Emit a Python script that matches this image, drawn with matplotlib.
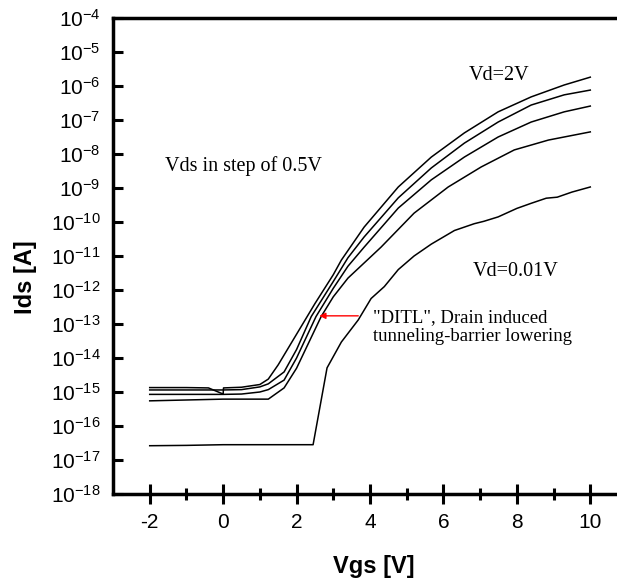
import matplotlib
matplotlib.use("Agg")
import matplotlib.pyplot as plt
import numpy as np

plt.rcParams['font.family'] = ['Liberation Sans', 'DejaVu Sans']
plt.rcParams['mathtext.fontset'] = 'custom'
plt.rcParams['mathtext.rm'] = 'Liberation Sans'
plt.rcParams['mathtext.it'] = 'Liberation Sans'
plt.rcParams['axes.unicode_minus'] = False

# Vgs [V] and log10(Ids [A]), Vd = 2V down to 0.01V
vgs_1 = [-2, -1, -0.4, 0, 0.01, 0.5, 1.0, 1.23, 1.5, 2.0, 2.5, 3.0, 3.22, 3.84, 4.77, 5.67, 6.57, 7.49, 8.39, 9.29, 10]
log_1 = [-14.87, -14.87, -14.88, -15.06, -14.88, -14.86, -14.78, -14.62, -14.2, -13.3, -12.4, -11.55, -11.12,
         -10.15, -8.97, -8.09, -7.38, -6.76, -6.32, -5.97, -5.74]

vgs_2 = [-2, 0, 0.5, 1.0, 1.23, 1.66, 2.0, 2.4, 3.0, 3.4, 3.84, 4.77, 5.67, 6.57, 7.49, 8.39, 9.29, 10]
log_2 = [-14.94, -14.94, -14.93, -14.85, -14.76, -14.41, -13.75, -12.78, -11.75, -11.05, -10.44,
         -9.29, -8.41, -7.68, -7.06, -6.56, -6.26, -6.12]

vgs_3 = [-2, 0, 0.5, 1.0, 1.23, 1.66, 2.0, 2.53, 3.0, 3.4, 3.84, 4.77, 5.67, 6.57, 7.49, 8.39, 9.29, 10]
log_3 = [-15.07, -15.07, -15.06, -15.0, -14.93, -14.65, -14.0, -12.78, -11.95, -11.3, -10.74,
         -9.59, -8.76, -8.09, -7.5, -7.06, -6.76, -6.59]

vgs_4 = [-2, 0, 1.0, 1.23, 1.66, 2.0, 2.67, 3.0, 3.4, 4.3, 5.2, 6.13, 7.03, 7.93, 8.86, 10]
log_4 = [-15.26, -15.21, -15.21, -15.21, -14.88, -14.3, -12.78, -12.2, -11.65, -10.74, -9.74,
         -8.97, -8.38, -7.88, -7.59, -7.35]

vgs_5 = [-2, -1, 0, 1, 2, 2.45, 2.83, 3.22, 3.68, 4.03, 4.39, 4.77, 5.2, 5.67, 6.3, 6.84, 7.1,
         7.49, 8.0, 8.39, 8.8, 9.1, 9.5, 10]
log_5 = [-16.58, -16.57, -16.55, -16.55, -16.55, -16.55, -14.29, -13.53, -12.88, -12.25, -11.9,
         -11.4, -11.0, -10.65, -10.25, -10.05, -9.98, -9.85, -9.6, -9.45, -9.3, -9.27, -9.12, -8.97]

curves = [(vgs_1, log_1), (vgs_2, log_2), (vgs_3, log_3), (vgs_4, log_4), (vgs_5, log_5)]

y_exps = list(range(-18, -3))
x_major = [-2, 0, 2, 4, 6, 8, 10]
x_minor = [-1, 1, 3, 5, 7, 9]

W, H = 617, 586
fig = plt.figure(figsize=(W / 100, H / 100), dpi=100)
ax = fig.add_axes([113 / W, 1 - 494 / H, 514 / W, 476 / H])

for v, lg in curves:
    ax.semilogy(v, 10.0 ** np.array(lg), color='black', lw=1.1)

ax.set_xlim(-3, 11)
ax.set_ylim(1e-18, 1e-4)

ax.set_yticks([10.0 ** e for e in y_exps])
ax.set_yticklabels([r'$\mathregular{10^{%d}}$' % e for e in y_exps])
ax.yaxis.set_minor_locator(matplotlib.ticker.NullLocator())
ax.set_xticks(x_major)
ax.set_xticks(x_minor, minor=True)

for s in ['left', 'bottom', 'top']:
    ax.spines[s].set_linewidth(2.5)
ax.spines['right'].set_visible(False)

ax.tick_params(axis='y', which='major', direction='in', length=7.5, width=2.2, labelsize=15, pad=9)
ax.tick_params(axis='x', which='major', direction='inout', length=15, width=2.2, labelsize=15, pad=6)
ax.tick_params(axis='x', which='minor', direction='inout', length=8.5, width=2.2)

ax.set_xlabel('Vgs [V]', fontsize=17, fontweight='bold')
ax.set_ylabel('Ids [A]', fontsize=17, fontweight='bold')
ax.xaxis.set_label_coords(0.508, -0.128)
ax.yaxis.set_label_coords(-0.148, 0.456)


def px(x, y):
    # pixel position from the top-left corner -> figure fraction
    return x / W, 1 - y / H


serif = ['Liberation Serif', 'DejaVu Serif']
fig.text(*px(499, 75), 'Vd=2V', fontsize=14.5, family=serif, ha='center', va='center')
fig.text(*px(516, 272), 'Vd=0.01V', fontsize=14.5, family=serif, ha='center', va='center')
fig.text(*px(165, 166), 'Vds in step of 0.5V', fontsize=14.5, family=serif, ha='left', va='center')
fig.text(*px(373, 327), '"DITL", Drain induced\ntunneling-barrier lowering',
         fontsize=13.5, family=serif, ha='left', va='center', linespacing=1.2)

# red arrow pointing at the Vd curves
ax.annotate('', xy=(2.62, 10 ** -12.76), xytext=(3.68, 10 ** -12.76),
            arrowprops=dict(arrowstyle='-|>', color='red', lw=1.0, mutation_scale=9,
                            shrinkA=0, shrinkB=0))

fig.savefig('out.png', dpi=100)
